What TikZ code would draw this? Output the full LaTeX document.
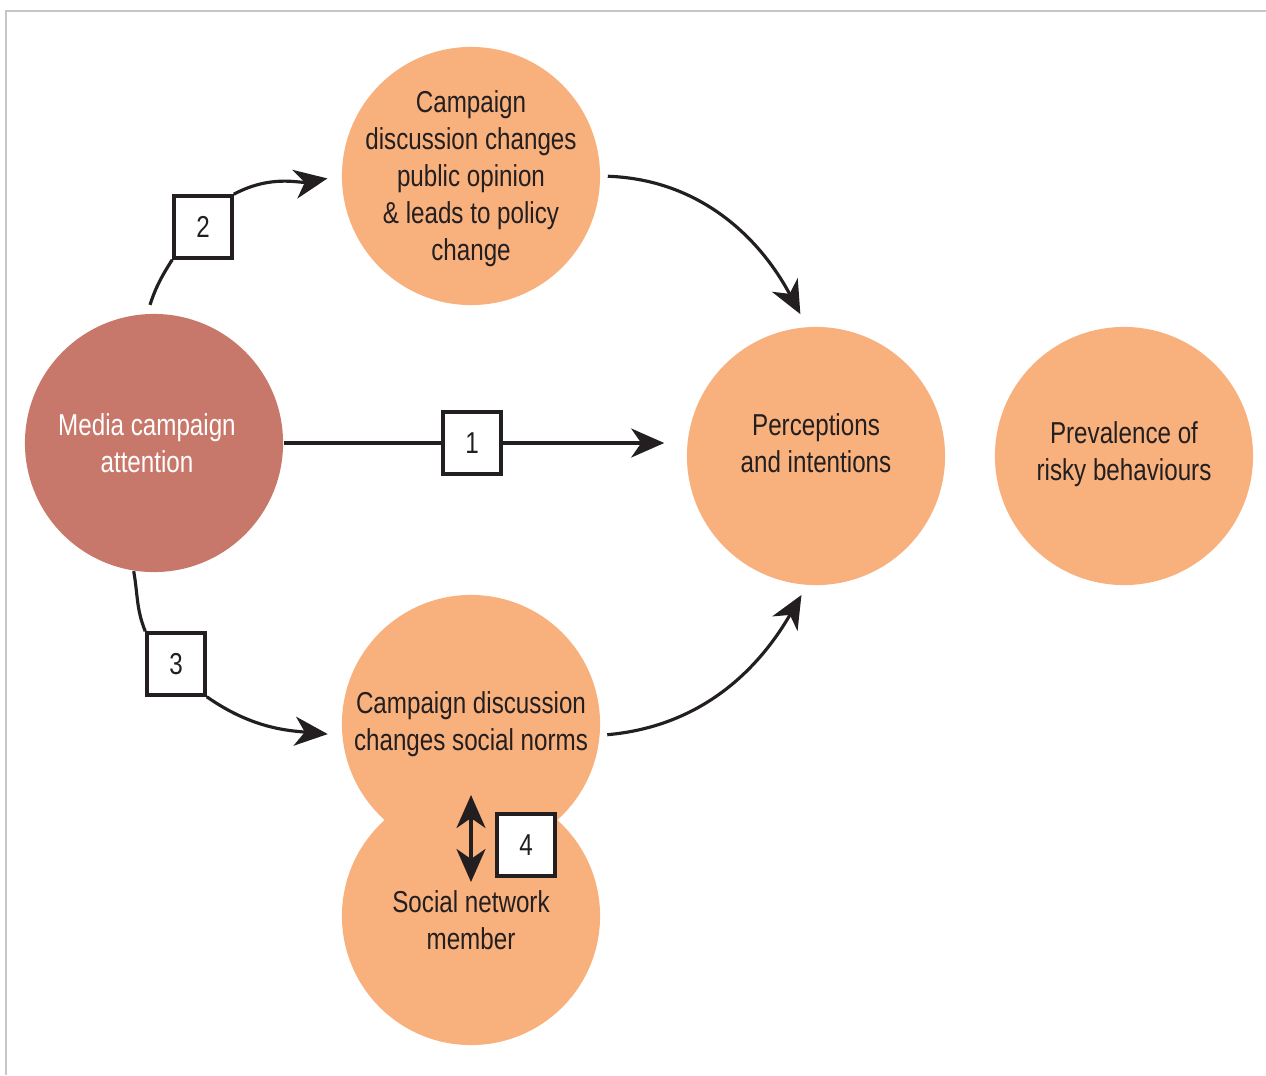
\documentclass[tikz,border=0pt]{standalone}
\usepackage{fontspec}
\setmainfont{Liberation Sans}[FakeStretch=0.8]
\usetikzlibrary{arrows.meta}
\definecolor{peach}{HTML}{F8B07D}
\definecolor{clay}{HTML}{C8786A}
\definecolor{ink}{HTML}{231F20}
\definecolor{framegray}{HTML}{C6C6CA}

\begin{document}
\begin{tikzpicture}[x=0.01cm, y=0.01cm,
    >={Stealth[length=3.3mm,width=2.9mm,inset=1mm]},
    font=\fontsize{8.6}{10.5}\selectfont,
    bubble/.style={circle, fill=peach, minimum size=2.58cm, inner sep=0pt},
    bubbletext/.style={align=center, text=ink, inner sep=0pt},
    numbox/.style={draw=ink, line width=1pt, fill=white, minimum width=.58cm,
      minimum height=.62cm, inner sep=0pt, text=ink},
    link/.style={draw=ink, line width=.9pt}]
  \useasboundingbox (0,0) rectangle (1266,-1075);
  \draw[draw=framegray, line width=.025cm] (6,-1075) -- (6,-11) -- (1266,-11);

  % circles
  \node (social) [bubble, label={[bubbletext, name=socialtxt, yshift=-.04cm]center:Social network\\member}]
    at (471,-916) {};
  \node (norms) [bubble, label={[bubbletext, name=normstxt]center:Campaign discussion\\changes social norms}]
    at (471,-724) {};
  \node (media) [bubble, fill=clay, label={[bubbletext, name=mediatxt, text=white, xshift=-.07cm]center:Media campaign\\attention}]
    at (154,-443) {};
  \node (policy) [bubble, label={[bubbletext, name=policytxt, yshift=-.03cm]center:Campaign\\discussion changes\\public opinion\\\& leads to policy\\change}]
    at (471,-176) {};
  \node (percept) [bubble, label={[bubbletext, name=percepttxt, yshift=.13cm]center:Perceptions\\and intentions}]
    at (816,-456) {};
  \node (risk) [bubble, label={[bubbletext, name=risktxt, yshift=.02cm]center:Prevalence of\\risky behaviours}]
    at (1124,-456) {};

  % numbered pathways
  \node (n2) [numbox] at (203,-227) {2};
  \node (n1) [numbox] at (472,-443) {1};
  \node (n3) [numbox] at (176,-664) {3};
  \node (n4) [numbox] at (526,-845) {4};

  \draw[link, shorten <=.09cm] (media.93) to[out=72, in=237] (n2.south west);
  \draw[link, ->, shorten >=.14cm] (n2.north east) to[out=28, in=190] (policy.west);
  \draw[link] (media.east) -- (n1.west);
  \draw[link, ->, shorten >=.22cm] (n1.east) -- (percept.west |- n1.east);
  \draw[link] (media.261) to[out=-80, in=112] (n3.north west);
  \draw[link, ->, shorten >=.14cm] (n3.south east) to[out=-35, in=175] (norms.185);
  \draw[link, ->, shorten <=.07cm, shorten >=.14cm] (policy.east) to[out=-2, in=118] (percept.94);
  \draw[link, ->, shorten <=.07cm, shorten >=.11cm] (norms.355) to[out=5, in=240] (percept.266);

  \coordinate (upper) at (471,-795);
  \coordinate (lower) at (471,-882);
  \draw[link, <->] (upper) -- (lower);
\end{tikzpicture}
\end{document}
